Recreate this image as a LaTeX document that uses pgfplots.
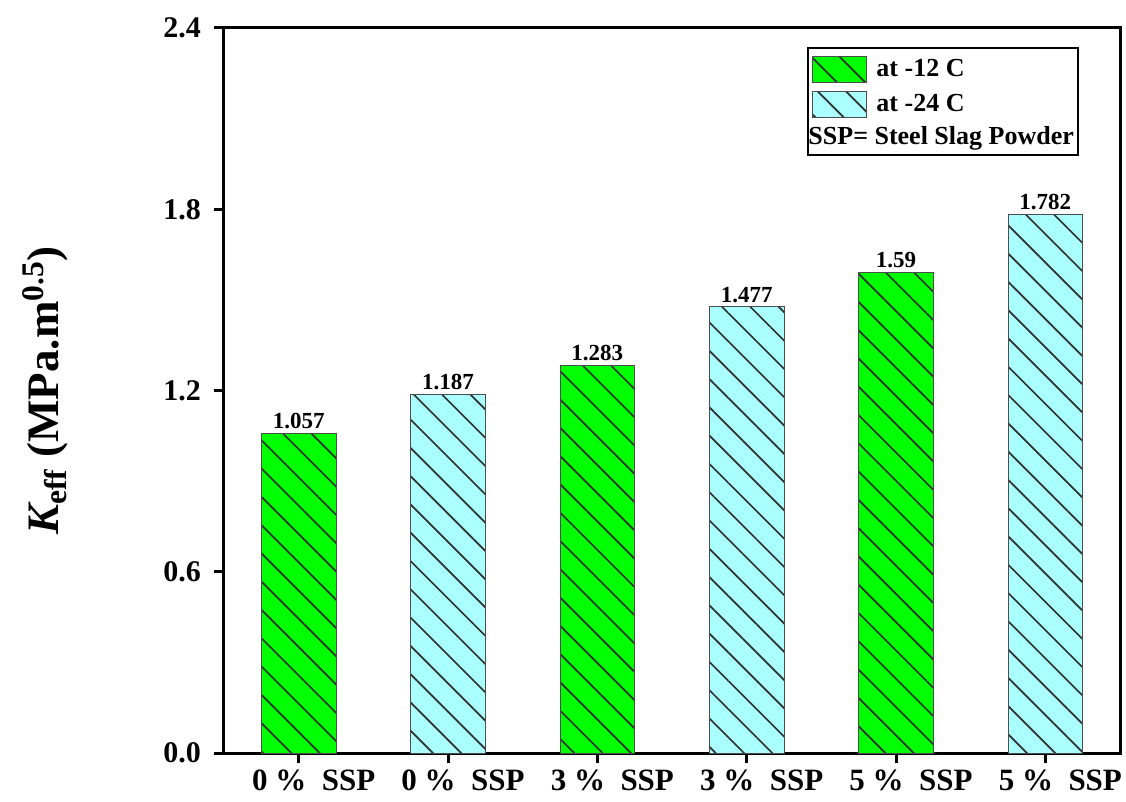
\documentclass[border=0pt]{standalone}
\usepackage{pgfplots}
\pgfplotsset{compat=1.18}
\usepackage{fontspec}
\setmainfont{Liberation Serif}
\usetikzlibrary{patterns.meta,calc}
\definecolor{bargreen}{RGB}{0,255,0}
\definecolor{barcyan}{RGB}{170,255,255}
\definecolor{hatch}{RGB}{45,50,45}
\begin{document}
\begin{tikzpicture}
\begin{axis}[name=ax, scale only axis, width=448pt, height=362.5pt,
  xmin=-0.5, xmax=5.5, ymin=0, ymax=2.4,
  xtick={0,1,2,3,4,5},
  xticklabels={{0 \%\enspace SSP},{0 \%\enspace SSP},{3 \%\enspace SSP},{3 \%\enspace SSP},{5 \%\enspace SSP},{5 \%\enspace SSP}},
  ytick={0,0.6,1.2,1.8,2.4},
  yticklabel style={/pgf/number format/fixed, /pgf/number format/fixed zerofill, /pgf/number format/precision=1, /pgf/number format/assume math mode=true, font=\fontsize{15}{15}\selectfont\bfseries, xshift=-3pt},
  xticklabel style={font=\fontsize{15.5}{15.5}\selectfont\bfseries, xshift=7.5pt},
  axis line style={line width=1.5pt},
  tick style={line width=1.5pt, black},
  major tick length=5pt, tick align=outside,
  xtick pos=bottom, ytick pos=left,
  ylabel={\bfseries\itshape K\textsubscript{\upshape eff}\upshape\ (MPa.m\textsuperscript{0.5})},
  ylabel style={font=\fontsize{22.5}{22.5}\selectfont, at={(axis description cs:-0.1998,0.5)}, anchor=center},
  legend image code/.code={\draw[#1, line width=0.5pt] (0pt,-6.5pt) rectangle (27pt,6.5pt);},
  legend cell align=left,
  legend style={at={(rel axis cs:0.953,0.972)}, anchor=north east, draw=black, line width=1pt,
    inner xsep=2pt, inner ysep=4pt, outer sep=0pt, row sep=4pt, column sep=4.5pt,
    nodes={inner sep=0pt},
    font=\fontsize{13}{13.5}\selectfont\bfseries},
]
\addplot[ybar, bar width=0.5, bar shift=0pt, fill=bargreen, draw=black!70, line width=0.5pt,
  postaction={pattern color=hatch, pattern={Lines[angle=-45,distance=10pt,line width=0.85pt]}}]
  coordinates {(0,1.057) (2,1.283) (4,1.59)};
\addlegendentry{at -12 C}
\addplot[ybar, bar width=0.5, bar shift=0pt, fill=barcyan, draw=black!70, line width=0.5pt,
  postaction={pattern color=hatch, pattern={Lines[angle=-45,distance=10pt,line width=0.85pt]}}]
  coordinates {(1,1.187) (3,1.477) (5,1.782)};
\addlegendentry{at -24 C}
\addlegendimage{empty legend}
\addlegendentry{\hspace*{-34pt}SSP= Steel Slag Powder}
\addplot[forget plot, draw=none, mark=none, nodes near coords, point meta=explicit symbolic,
  nodes near coords style={font=\fontsize{11.5}{11.5}\selectfont\bfseries, black, anchor=south, inner sep=2pt}]
  coordinates {(0,1.057)[1.057] (1,1.187)[1.187] (2,1.283)[1.283] (3,1.477)[1.477] (4,1.59)[1.59] (5,1.782)[1.782]};
\end{axis}
\pgfresetboundingbox
\path[use as bounding box] ($(ax.south west)+(-112pt,-24pt)$) rectangle ($(ax.north east)+(3pt,14pt)$);
\end{tikzpicture}
\end{document}
